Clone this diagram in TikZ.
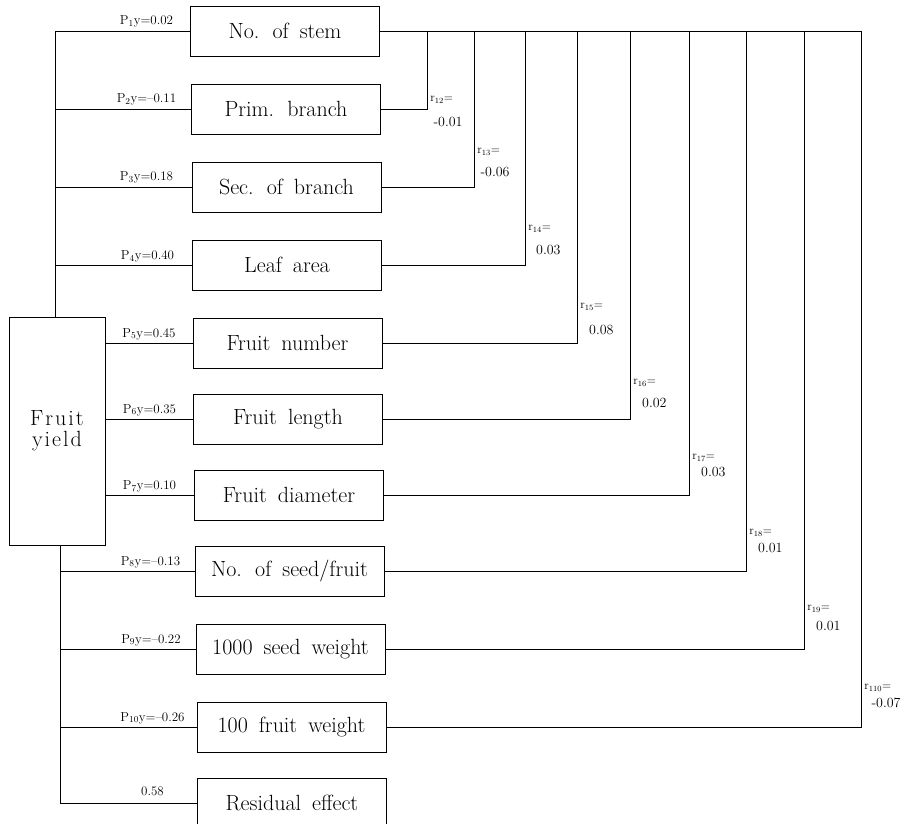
\documentclass[tikz,border=0pt]{standalone}
\usepackage{fontspec}
\newcommand\facfont{\fontsize{22}{26}\selectfont\spaceskip=11pt plus 2pt minus 1pt\relax}
\newcommand\fyfont{\fontsize{22}{21}\selectfont}
\newcommand\spl{\kern2pt\relax}
\begin{document}
\begin{tikzpicture}[x=1pt,y=-1pt,line width=0.8pt,
  factor/.style={draw, minimum width=189pt, minimum height=50pt, inner sep=0pt, font=\facfont},
  plab/.style={anchor=base, inner sep=0pt, font=\fontsize{13}{15}\selectfont},
  rname/.style={anchor=west, inner sep=0pt, font=\fontsize{12}{14}\selectfont},
  rval/.style={anchor=east, inner sep=0pt, font=\fontsize{14}{16}\selectfont}]
\useasboundingbox (0,0) rectangle (914,824);

% main node
\node[draw, minimum width=96pt, minimum height=228pt, inner sep=0pt, align=center, font=\fyfont] (fy) at (57,431)
  {F\spl r\spl u\spl i\spl t\\y\spl i\spl e\spl l\spl d};

% factor boxes
\node[factor] (b1) at (285,31) {No. of stem};
\node[factor] (b2) at (286,109) {Prim. branch};
\node[factor] (b3) at (286.5,187) {Sec. of branch};
\node[factor] (b4) at (287,265) {Leaf area};
\node[factor] (b5) at (287.5,343) {Fruit number};
\node[factor] (b6) at (288,419) {Fruit length};
\node[factor] (b7) at (289,495) {Fruit diameter};
\node[factor] (b8) at (289.5,571) {No. of seed/fruit};
\node[factor] (b9) at (290.5,649) {1000 seed weight};
\node[factor] (b10) at (291.5,727) {100 fruit weight};
\node[factor] (res) at (292,803) {Residual effect};

% left buses
\coordinate (ub) at (55,31);
\coordinate (lb) at (60,803);
\draw (b1.west) -- (ub) -- (ub |- fy.north);
\foreach \i in {2,3,4} \draw (b\i.west -| ub) -- (b\i.west);
\foreach \i in {5,6,7} \draw (fy.east |- b\i.west) -- (b\i.west);
\draw (lb |- fy.south) -- (lb) -- (res.west);
\foreach \i in {8,9,10} \draw (b\i.west -| lb) -- (b\i.west);

% path coefficient labels
\node[plab] (p1) at (146.5,25) {P\textsubscript{1}y=0.02};
\node[plab] (p2) at (146.5,103) {P\textsubscript{2}y=--0.11};
\node[plab] (p3) at (146.5,181) {P\textsubscript{3}y=0.18};
\node[plab] (p4) at (147.5,259) {P\textsubscript{4}y=0.40};
\node[plab] (p5) at (149,337) {P\textsubscript{5}y=0.45};
\node[plab] (p6) at (149.5,413) {P\textsubscript{6}y=0.35};
\node[plab] (p7) at (149.5,489) {P\textsubscript{7}y=0.10};
\node[plab] (p8) at (150.5,565) {P\textsubscript{8}y=--0.13};
\node[plab] (p9) at (151,643) {P\textsubscript{9}y=--0.22};
\node[plab] (p10) at (152.5,721) {P\textsubscript{10}y=--0.26};
\node[plab] (p11) at (152.5,795) {0.58};

% right-hand correlation connectors
\coordinate (t2) at (427,31);
\coordinate (t3) at (474,31);
\coordinate (t4) at (525,31);
\coordinate (t5) at (577,31);
\coordinate (t6) at (630,31);
\coordinate (t7) at (689,31);
\coordinate (t8) at (746,31);
\coordinate (t9) at (804,31);
\coordinate (t10) at (861,31);
\draw (b1.east) -- (t10);
\foreach \i in {2,...,10} \draw (b\i.east) -| (t\i);

% correlation labels
\node[rname] (n2) at (430,100) {r\textsubscript{12}=};
\node[rval] (v2) at (463,122) {-0.01};
\node[rname] (n3) at (477,152) {r\textsubscript{13}=};
\node[rval] (v3) at (510,172) {-0.06};
\node[rname] (n4) at (528,229) {r\textsubscript{14}=};
\node[rval] (v4) at (561,250) {0.03};
\node[rname] (n5) at (580,307) {r\textsubscript{15}=};
\node[rval] (v5) at (614,330) {0.08};
\node[rname] (n6) at (633,383) {r\textsubscript{16}=};
\node[rval] (v6) at (667,403) {0.02};
\node[rname] (n7) at (692,458) {r\textsubscript{17}=};
\node[rval] (v7) at (726,472) {0.03};
\node[rname] (n8) at (749,533) {r\textsubscript{18}=};
\node[rval] (v8) at (783,548) {0.01};
\node[rname] (n9) at (807,609) {r\textsubscript{19}=};
\node[rval] (v9) at (841,626) {0.01};
\node[rname] (n10) at (864,688) {r\textsubscript{110}=};
\node[rval] (v10) at (901,703) {-0.07};
\end{tikzpicture}
\end{document}
